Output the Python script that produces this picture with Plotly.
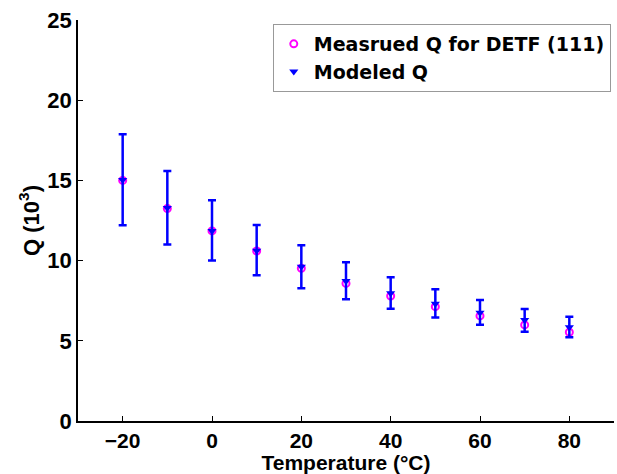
import plotly.graph_objects as go

# Temperature sweep (°C)
temperature = [-20, -10, 0, 10, 20, 30, 40, 50, 60, 70, 80]

# Measured quality factor, in units of 10^3
q_measured = [15.0, 13.25, 11.85, 10.6, 9.52, 8.58, 7.79, 7.13, 6.55, 5.99, 5.53]

# Modeled quality factor, in units of 10^3
q_modeled = [15.02, 13.28, 11.85, 10.62, 9.62, 8.73, 7.96, 7.31, 6.75, 6.30, 5.84]

# Upper and lower ends of the model uncertainty band
q_high = [17.87, 15.59, 13.76, 12.22, 10.95, 9.89, 8.96, 8.21, 7.54, 6.98, 6.50]
q_low = [12.20, 11.00, 10.00, 9.08, 8.27, 7.59, 7.00, 6.46, 6.00, 5.57, 5.22]

x_ticks = [-20, 0, 20, 40, 60, 80]
y_ticks = [0, 5, 10, 15, 20, 25]

err_plus = [h - m for h, m in zip(q_high, q_modeled)]
err_minus = [m - l for m, l in zip(q_modeled, q_low)]

FONT = "Liberation Sans, Arial, Helvetica, sans-serif"
LEGEND_FONT = "DejaVu Sans, Liberation Sans, sans-serif"

fig = go.Figure()

fig.add_trace(go.Scatter(
    x=temperature, y=q_measured, mode="markers",
    name="Measrued Q for DETF (111)",
    marker=dict(symbol="circle-open", size=7, color="#ff00ff",
                line=dict(width=2, color="#ff00ff")),
))

fig.add_trace(go.Scatter(
    x=temperature, y=q_modeled, mode="markers",
    name="Modeled Q",
    marker=dict(symbol="triangle-down", size=8, color="#0000ff",
                line=dict(width=0)),
    error_y=dict(type="data", symmetric=False, array=err_plus,
                 arrayminus=err_minus, color="#0000ff",
                 thickness=2.5, width=4),
))

axis_common = dict(
    showline=True, linecolor="black", linewidth=1.5,
    ticks="inside", ticklen=5, tickcolor="black", tickwidth=1.2,
    showgrid=False, zeroline=False, mirror=False,
)

fig.update_layout(
    width=617, height=474,
    margin=dict(l=78, r=3, t=20, b=53),
    plot_bgcolor="white", paper_bgcolor="white",
    font=dict(family=FONT, color="black"),
    xaxis=dict(
        range=[-30, 90], tickvals=x_ticks,
        ticktext=[f"{v:d}".replace("-", "\u2212") for v in x_ticks],
        tickfont=dict(family=FONT, size=21, color="black", weight="bold"),
        title=dict(text="Temperature (°C)", standoff=4,
                   font=dict(family=FONT, size=21, color="black", weight="bold")),
        **axis_common,
    ),
    yaxis=dict(
        range=[0, 25], tickvals=y_ticks,
        tickfont=dict(family=FONT, size=22, color="black", weight="bold"),
        title=dict(text="Q (10<sup>3</sup>)", standoff=2,
                   font=dict(family=FONT, size=22, color="black", weight="bold")),
        **axis_common,
    ),
    legend=dict(
        x=0.994, y=0.99, xanchor="right", yanchor="top",
        bgcolor="white", bordercolor="#999999", borderwidth=1,
        font=dict(family=LEGEND_FONT, size=19, color="black", weight="bold"),
        itemwidth=30, tracegroupgap=0,
    ),
    showlegend=True,
)

fig.write_html("out.html")
